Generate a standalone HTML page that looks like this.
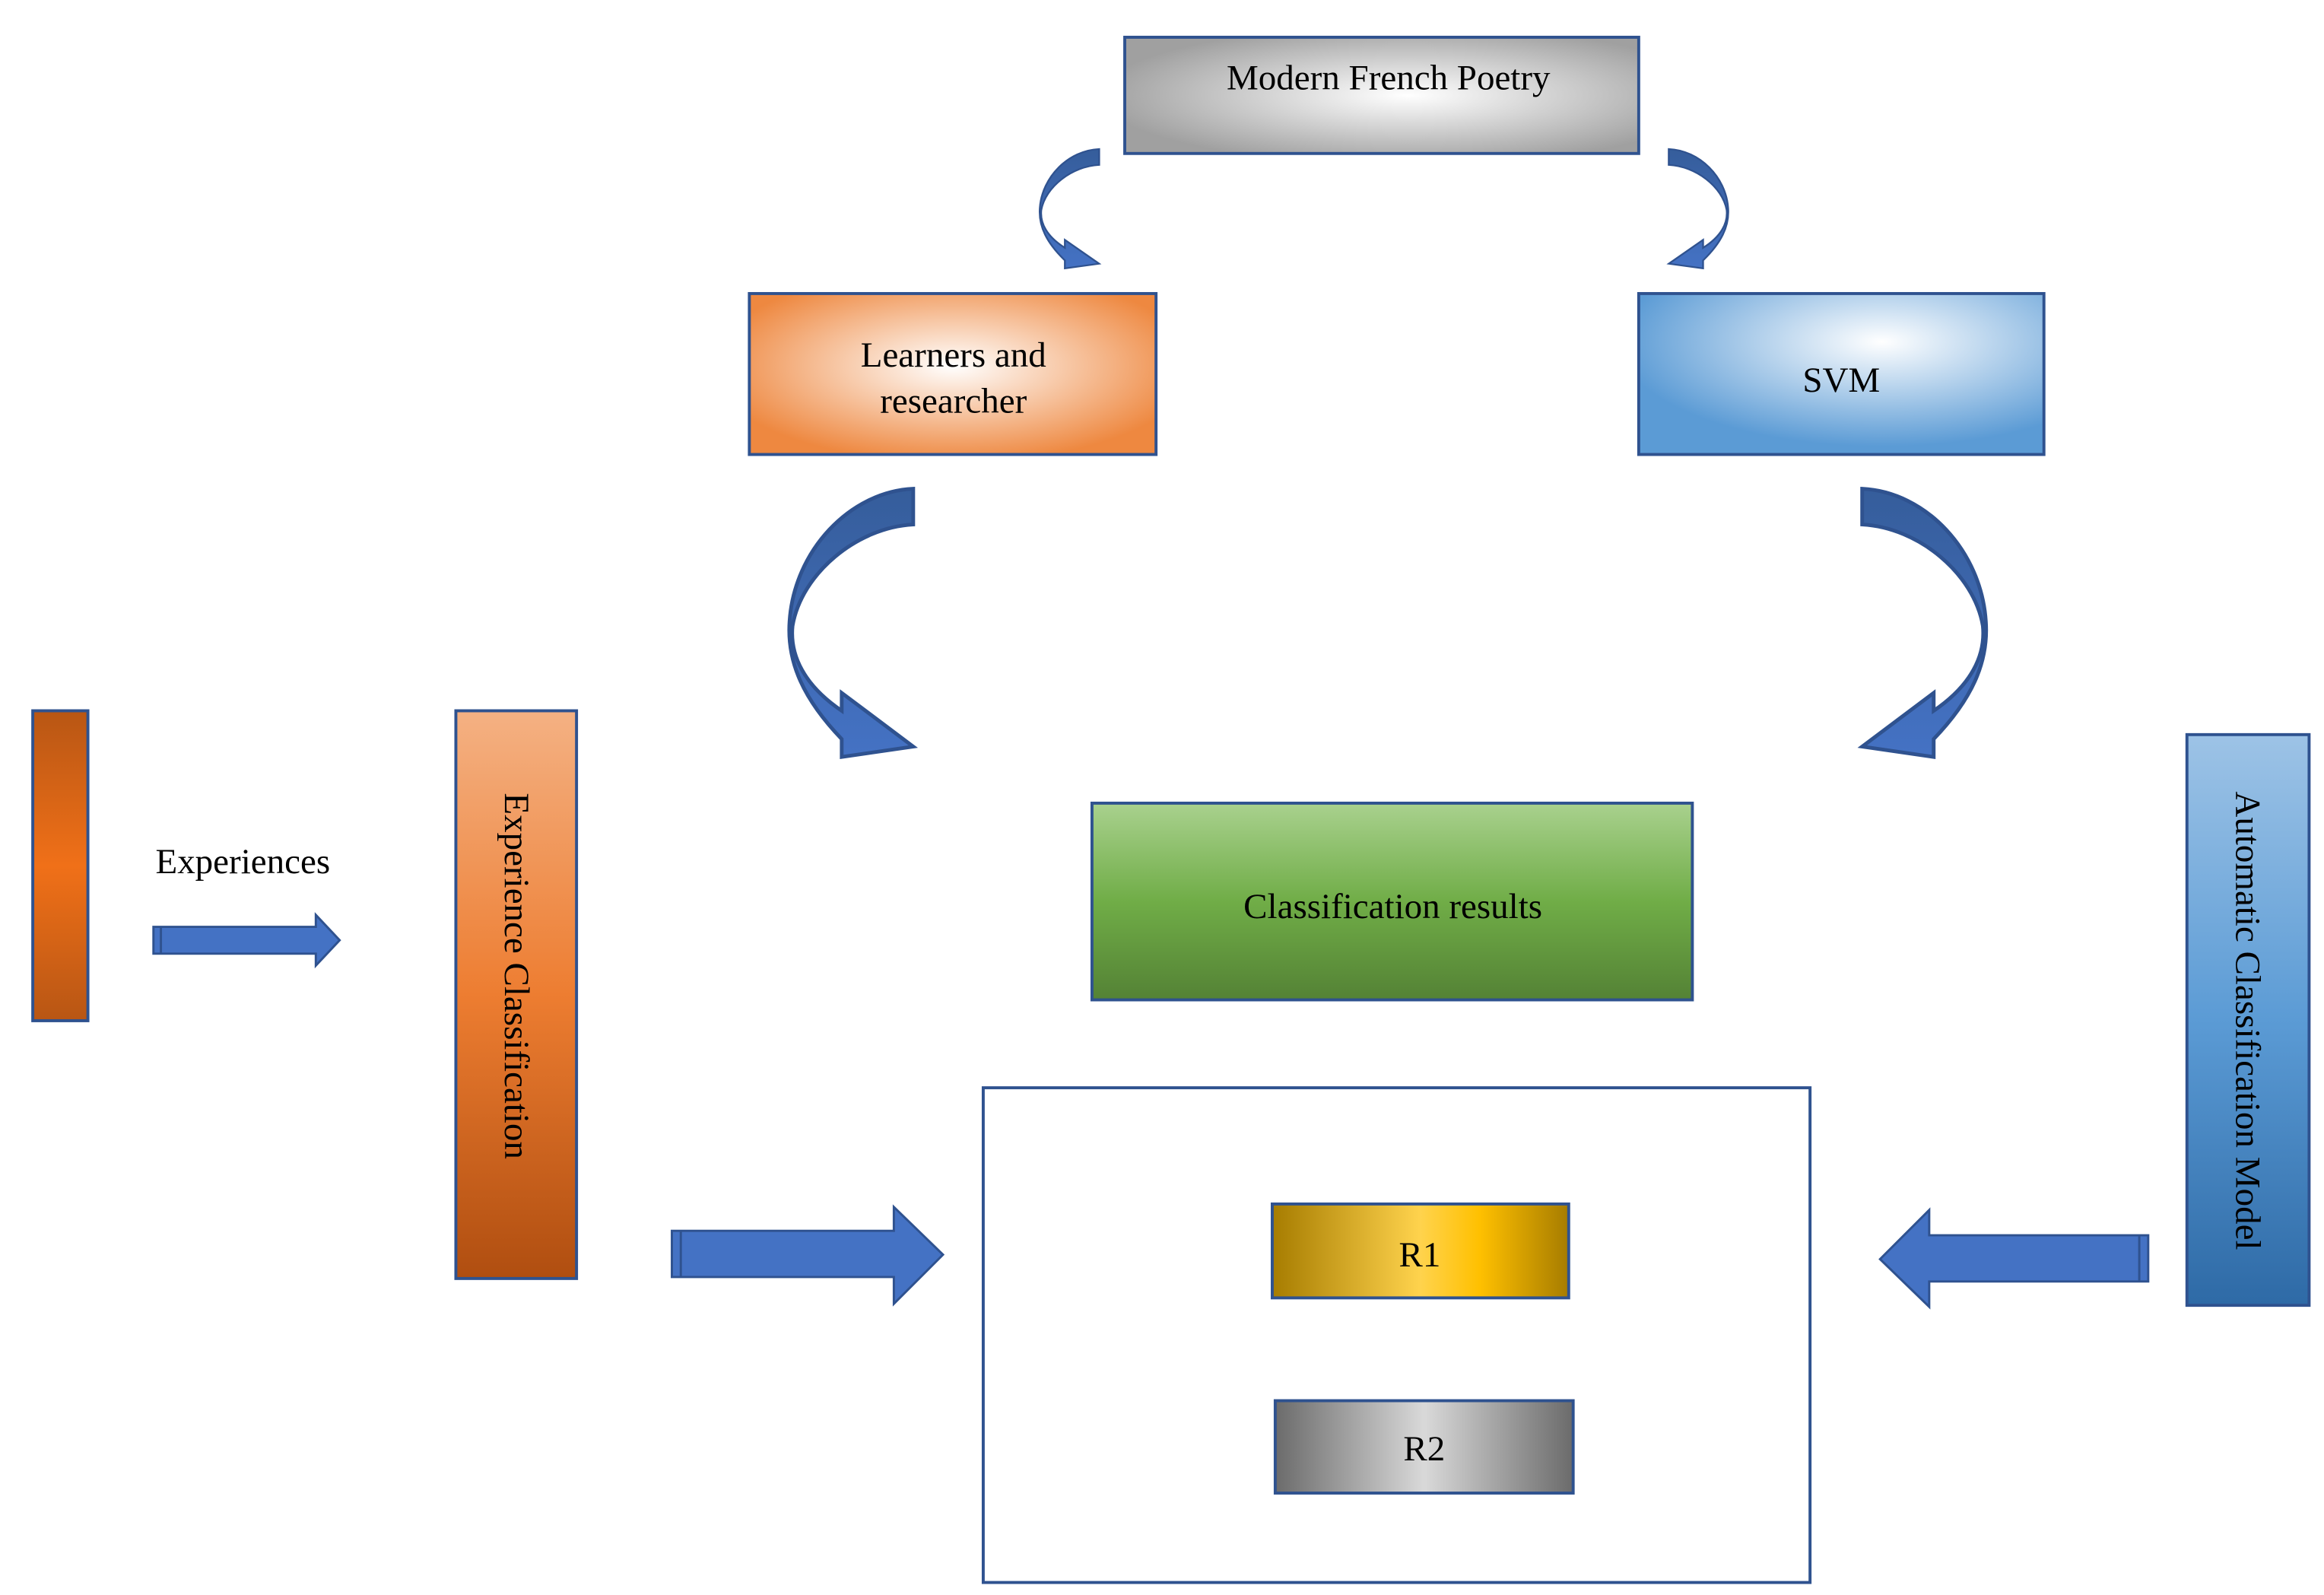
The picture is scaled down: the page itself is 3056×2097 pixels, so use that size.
<!DOCTYPE html>
<html><head><meta charset="utf-8"><style>html,body{margin:0;padding:0;background:#fff}svg{display:block}</style></head>
<body>
<svg width="3056" height="2097" viewBox="0 0 1560 1070.4" preserveAspectRatio="none" xmlns="http://www.w3.org/2000/svg" font-family="'Liberation Serif', serif">
<defs>
<radialGradient id="gGray" cx="0.55" cy="0.5" r="0.6"><stop offset="0" stop-color="#ffffff"/><stop offset="1" stop-color="#a0a0a0"/></radialGradient>
<radialGradient id="gOr" cx="0.5" cy="0.45" r="0.6"><stop offset="0" stop-color="#ffffff"/><stop offset="1" stop-color="#ee8840"/></radialGradient>
<radialGradient id="gBl" cx="0.6" cy="0.3" r="0.65"><stop offset="0" stop-color="#ffffff"/><stop offset="1" stop-color="#5b9bd5"/></radialGradient>
<linearGradient id="gGr" x1="0" y1="0" x2="0" y2="1"><stop offset="0" stop-color="#a9d18e"/><stop offset="0.5" stop-color="#70ad47"/><stop offset="1" stop-color="#548235"/></linearGradient>
<linearGradient id="gR1" x1="0" y1="0" x2="1" y2="0"><stop offset="0" stop-color="#a67c00"/><stop offset="0.5" stop-color="#ffd34d"/><stop offset="0.7" stop-color="#ffc000"/><stop offset="1" stop-color="#a67c00"/></linearGradient>
<linearGradient id="gR2" x1="0" y1="0" x2="1" y2="0"><stop offset="0" stop-color="#6b6b6b"/><stop offset="0.5" stop-color="#d9d9d9"/><stop offset="1" stop-color="#6b6b6b"/></linearGradient>
<linearGradient id="gBar" x1="0" y1="0" x2="0" y2="1"><stop offset="0" stop-color="#b85614"/><stop offset="0.5" stop-color="#f07018"/><stop offset="1" stop-color="#b85614"/></linearGradient>
<linearGradient id="gEC" x1="0" y1="0" x2="0" y2="1"><stop offset="0" stop-color="#f4b183"/><stop offset="0.5" stop-color="#ed7d31"/><stop offset="1" stop-color="#b04e10"/></linearGradient>
<linearGradient id="gAC" x1="0" y1="0" x2="0" y2="1"><stop offset="0" stop-color="#9dc3e6"/><stop offset="0.5" stop-color="#5b9bd5"/><stop offset="1" stop-color="#2e6aa6"/></linearGradient>
<linearGradient id="gArc" x1="0" y1="0" x2="0" y2="1"><stop offset="0" stop-color="#355d9b"/><stop offset="0.5" stop-color="#3e68b0"/><stop offset="1" stop-color="#4472c4"/></linearGradient>
<path id="arc" d="M613,328 L613,352 C575,354 538,385 532,420 C530,440 540,460 565,477 L565,465 L613,501 L565,508 L565,496 C540,470 528,445 530,417 C533,370 570,330 613,328 Z" fill="url(#gArc)" stroke="#2f528f" stroke-width="2.5" stroke-linejoin="miter"/>
</defs>
<g stroke="#2f528f" stroke-width="2">
<rect x="755" y="25" width="345" height="78" fill="url(#gGray)"/>
<rect x="503" y="197" width="273" height="108" fill="url(#gOr)"/>
<rect x="1100" y="197" width="272" height="108" fill="url(#gBl)"/>
<rect x="733" y="539" width="403" height="132" fill="url(#gGr)"/>
<rect x="660" y="730" width="555" height="332" fill="#fff"/>
<rect x="854" y="808" width="199" height="63" fill="url(#gR1)"/>
<rect x="856" y="940" width="200" height="62" fill="url(#gR2)"/>
<rect x="22" y="477" width="37" height="208" fill="url(#gBar)"/>
<rect x="306" y="477" width="81" height="381" fill="url(#gEC)"/>
<rect x="1468" y="493" width="82" height="383" fill="url(#gAC)"/>
</g>
<use href="#arc"/>
<use href="#arc" transform="translate(1863,0) scale(-1,1)"/>
<use href="#arc" transform="translate(698,100) scale(0.48,0.445) translate(-530,-328)"/>
<use href="#arc" transform="translate(1858,0) scale(-1,1) translate(698,100) scale(0.48,0.445) translate(-530,-328)"/>
<g fill="#4472c4" stroke="#2f528f" stroke-width="1.5">
<path d="M103,622 L212,622 L212,614 L228,631 L212,648 L212,640 L103,640 Z"/>
<path d="M451,826 L600,826 L600,810 L633,842 L600,875 L600,857 L451,857 Z"/>
<path d="M1442,829 L1295,829 L1295,812 L1262,845 L1295,877 L1295,860 L1442,860 Z"/>
</g>
<g stroke="#2f528f" stroke-width="1.5"><line x1="457" y1="826" x2="457" y2="857"/><line x1="1436" y1="829" x2="1436" y2="860"/><line x1="108" y1="622" x2="108" y2="640"/></g>
<g font-size="24" fill="#000" text-anchor="middle">
<text x="932" y="60">Modern French Poetry</text>
<text x="640" y="246">Learners and</text>
<text x="640" y="277">researcher</text>
<text x="1236" y="263">SVM</text>
<text x="935" y="616">Classification results</text>
<text x="953" y="850">R1</text>
<text x="956" y="980">R2</text>
<text x="163" y="586">Experiences</text>
<text transform="translate(339,655) rotate(90)">Experience Classification</text>
<text transform="translate(1501,685) rotate(90)">Automatic Classification Model</text>
</g>
</svg>
</body></html>
